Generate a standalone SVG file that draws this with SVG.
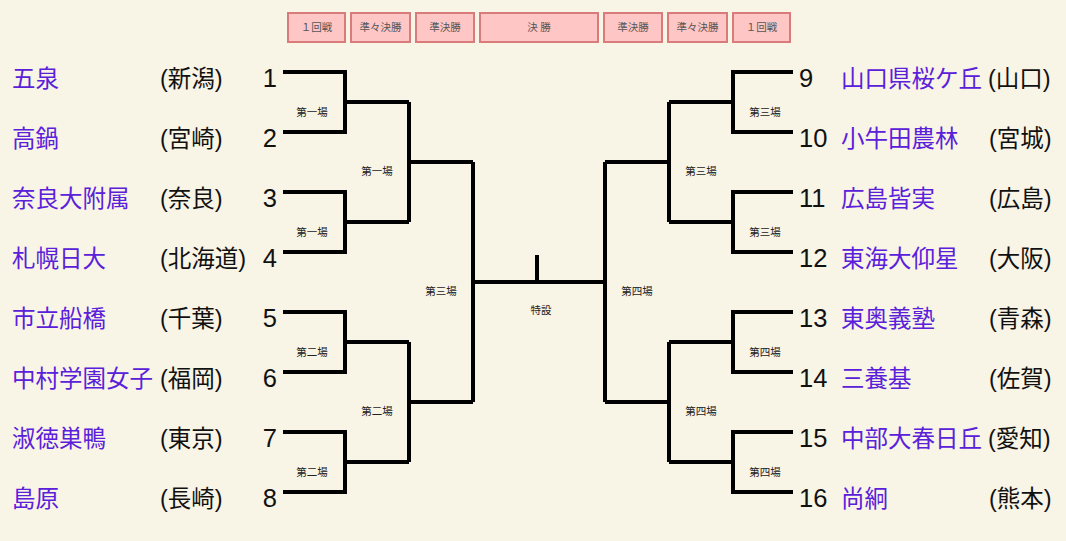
<svg xmlns="http://www.w3.org/2000/svg" width="1066" height="541" viewBox="0 0 1066 541">
<style>
.bg{fill:#f8f4e6}
.hb rect{fill:#ffc6c6;stroke:#d97b7b;stroke-width:2}
.hb text{font-family:"Noto Sans CJK JP",sans-serif;font-size:10.5px;fill:#555;text-anchor:middle}
.nm{font-family:"Liberation Sans","Noto Sans CJK JP",sans-serif;font-size:23.5px;fill:#5a20da}
.pf{font-family:"Liberation Sans","Noto Sans CJK JP",sans-serif;font-size:23.5px;fill:#111}
.no{font-family:"Liberation Sans","Noto Sans CJK JP",sans-serif;font-size:25.5px;fill:#111}
.lb{font-family:"Noto Sans CJK JP",sans-serif;font-size:10.5px;fill:#222;text-anchor:middle}
#connectors path{fill:none;stroke:#000;stroke-width:4;stroke-linejoin:miter}
</style>
<rect class="bg" x="0" y="0" width="1066" height="541"/>
<g id="header" class="hb">
<rect x="288" y="13" width="57" height="29"/><text x="316.5" y="31">１回戦</text>
<rect x="351" y="13" width="59" height="29"/><text x="380.5" y="31">準々決勝</text>
<rect x="416" y="13" width="58" height="29"/><text x="445" y="31">準決勝</text>
<rect x="480" y="13" width="118" height="29"/><text x="539" y="31">決 勝</text>
<rect x="604" y="13" width="58" height="29"/><text x="633" y="31">準決勝</text>
<rect x="668" y="13" width="59" height="29"/><text x="697.5" y="31">準々決勝</text>
<rect x="733" y="13" width="57" height="29"/><text x="761.5" y="31">１回戦</text>
</g>
<g id="connectors">
<path d="M283 72H345V132H283M345 102H409"/>
<path d="M283 192H345V252H283M345 222H409"/>
<path d="M283 312H345V372H283M345 342H409"/>
<path d="M283 432H345V492H283M345 462H409"/>
<path d="M409 102V222M409 162H473"/>
<path d="M409 342V462M409 402H473"/>
<path d="M473 162V402M473 282H605M537 255V282"/>
<path d="M793 72H733V132H793M733 102H669"/>
<path d="M793 192H733V252H793M733 222H669"/>
<path d="M793 312H733V372H793M733 342H669"/>
<path d="M793 432H733V492H793M733 462H669"/>
<path d="M669 102V222M669 162H605"/>
<path d="M669 342V462M669 402H605"/>
<path d="M605 162V402"/>
</g>
<g id="match-labels">
<text class="lb" x="312" y="115.5">第一場</text>
<text class="lb" x="312" y="235.5">第一場</text>
<text class="lb" x="312" y="355.5">第二場</text>
<text class="lb" x="312" y="475.5">第二場</text>
<text class="lb" x="377" y="175">第一場</text>
<text class="lb" x="377" y="415">第二場</text>
<text class="lb" x="441" y="295">第三場</text>
<text class="lb" x="541" y="314">特設</text>
<text class="lb" x="637" y="295">第四場</text>
<text class="lb" x="701" y="175">第三場</text>
<text class="lb" x="701" y="415">第四場</text>
<text class="lb" x="765" y="115.5">第三場</text>
<text class="lb" x="765" y="235.5">第三場</text>
<text class="lb" x="765" y="355.5">第四場</text>
<text class="lb" x="765" y="475.5">第四場</text>
</g>
<g id="team1"><text class="nm" x="12" y="86.5">五泉</text><text class="pf" x="160" y="86.5">(新潟)</text><text class="no" x="277" y="86.5" text-anchor="end">1</text></g>
<g id="team2"><text class="nm" x="12" y="146.5">高鍋</text><text class="pf" x="160" y="146.5">(宮崎)</text><text class="no" x="277" y="146.5" text-anchor="end">2</text></g>
<g id="team3"><text class="nm" x="12" y="206.5">奈良大附属</text><text class="pf" x="160" y="206.5">(奈良)</text><text class="no" x="277" y="206.5" text-anchor="end">3</text></g>
<g id="team4"><text class="nm" x="12" y="266.5">札幌日大</text><text class="pf" x="160" y="266.5">(北海道)</text><text class="no" x="277" y="266.5" text-anchor="end">4</text></g>
<g id="team5"><text class="nm" x="12" y="326.5">市立船橋</text><text class="pf" x="160" y="326.5">(千葉)</text><text class="no" x="277" y="326.5" text-anchor="end">5</text></g>
<g id="team6"><text class="nm" x="12" y="386.5">中村学園女子</text><text class="pf" x="160" y="386.5">(福岡)</text><text class="no" x="277" y="386.5" text-anchor="end">6</text></g>
<g id="team7"><text class="nm" x="12" y="446.5">淑徳巣鴨</text><text class="pf" x="160" y="446.5">(東京)</text><text class="no" x="277" y="446.5" text-anchor="end">7</text></g>
<g id="team8"><text class="nm" x="12" y="506.5">島原</text><text class="pf" x="160" y="506.5">(長崎)</text><text class="no" x="277" y="506.5" text-anchor="end">8</text></g>
<g id="team9"><text class="no" x="799" y="86.5">9</text><text class="nm" x="841" y="86.5">山口県桜ケ丘</text><text class="pf" x="988" y="86.5">(山口)</text></g>
<g id="team10"><text class="no" x="799" y="146.5">10</text><text class="nm" x="841" y="146.5">小牛田農林</text><text class="pf" x="989" y="146.5">(宮城)</text></g>
<g id="team11"><text class="no" x="799" y="206.5">11</text><text class="nm" x="841" y="206.5">広島皆実</text><text class="pf" x="989" y="206.5">(広島)</text></g>
<g id="team12"><text class="no" x="799" y="266.5">12</text><text class="nm" x="841" y="266.5">東海大仰星</text><text class="pf" x="989" y="266.5">(大阪)</text></g>
<g id="team13"><text class="no" x="799" y="326.5">13</text><text class="nm" x="841" y="326.5">東奥義塾</text><text class="pf" x="989" y="326.5">(青森)</text></g>
<g id="team14"><text class="no" x="799" y="386.5">14</text><text class="nm" x="841" y="386.5">三養基</text><text class="pf" x="989" y="386.5">(佐賀)</text></g>
<g id="team15"><text class="no" x="799" y="446.5">15</text><text class="nm" x="841" y="446.5">中部大春日丘</text><text class="pf" x="988" y="446.5">(愛知)</text></g>
<g id="team16"><text class="no" x="799" y="506.5">16</text><text class="nm" x="841" y="506.5">尚絅</text><text class="pf" x="989" y="506.5">(熊本)</text></g>
</svg>
